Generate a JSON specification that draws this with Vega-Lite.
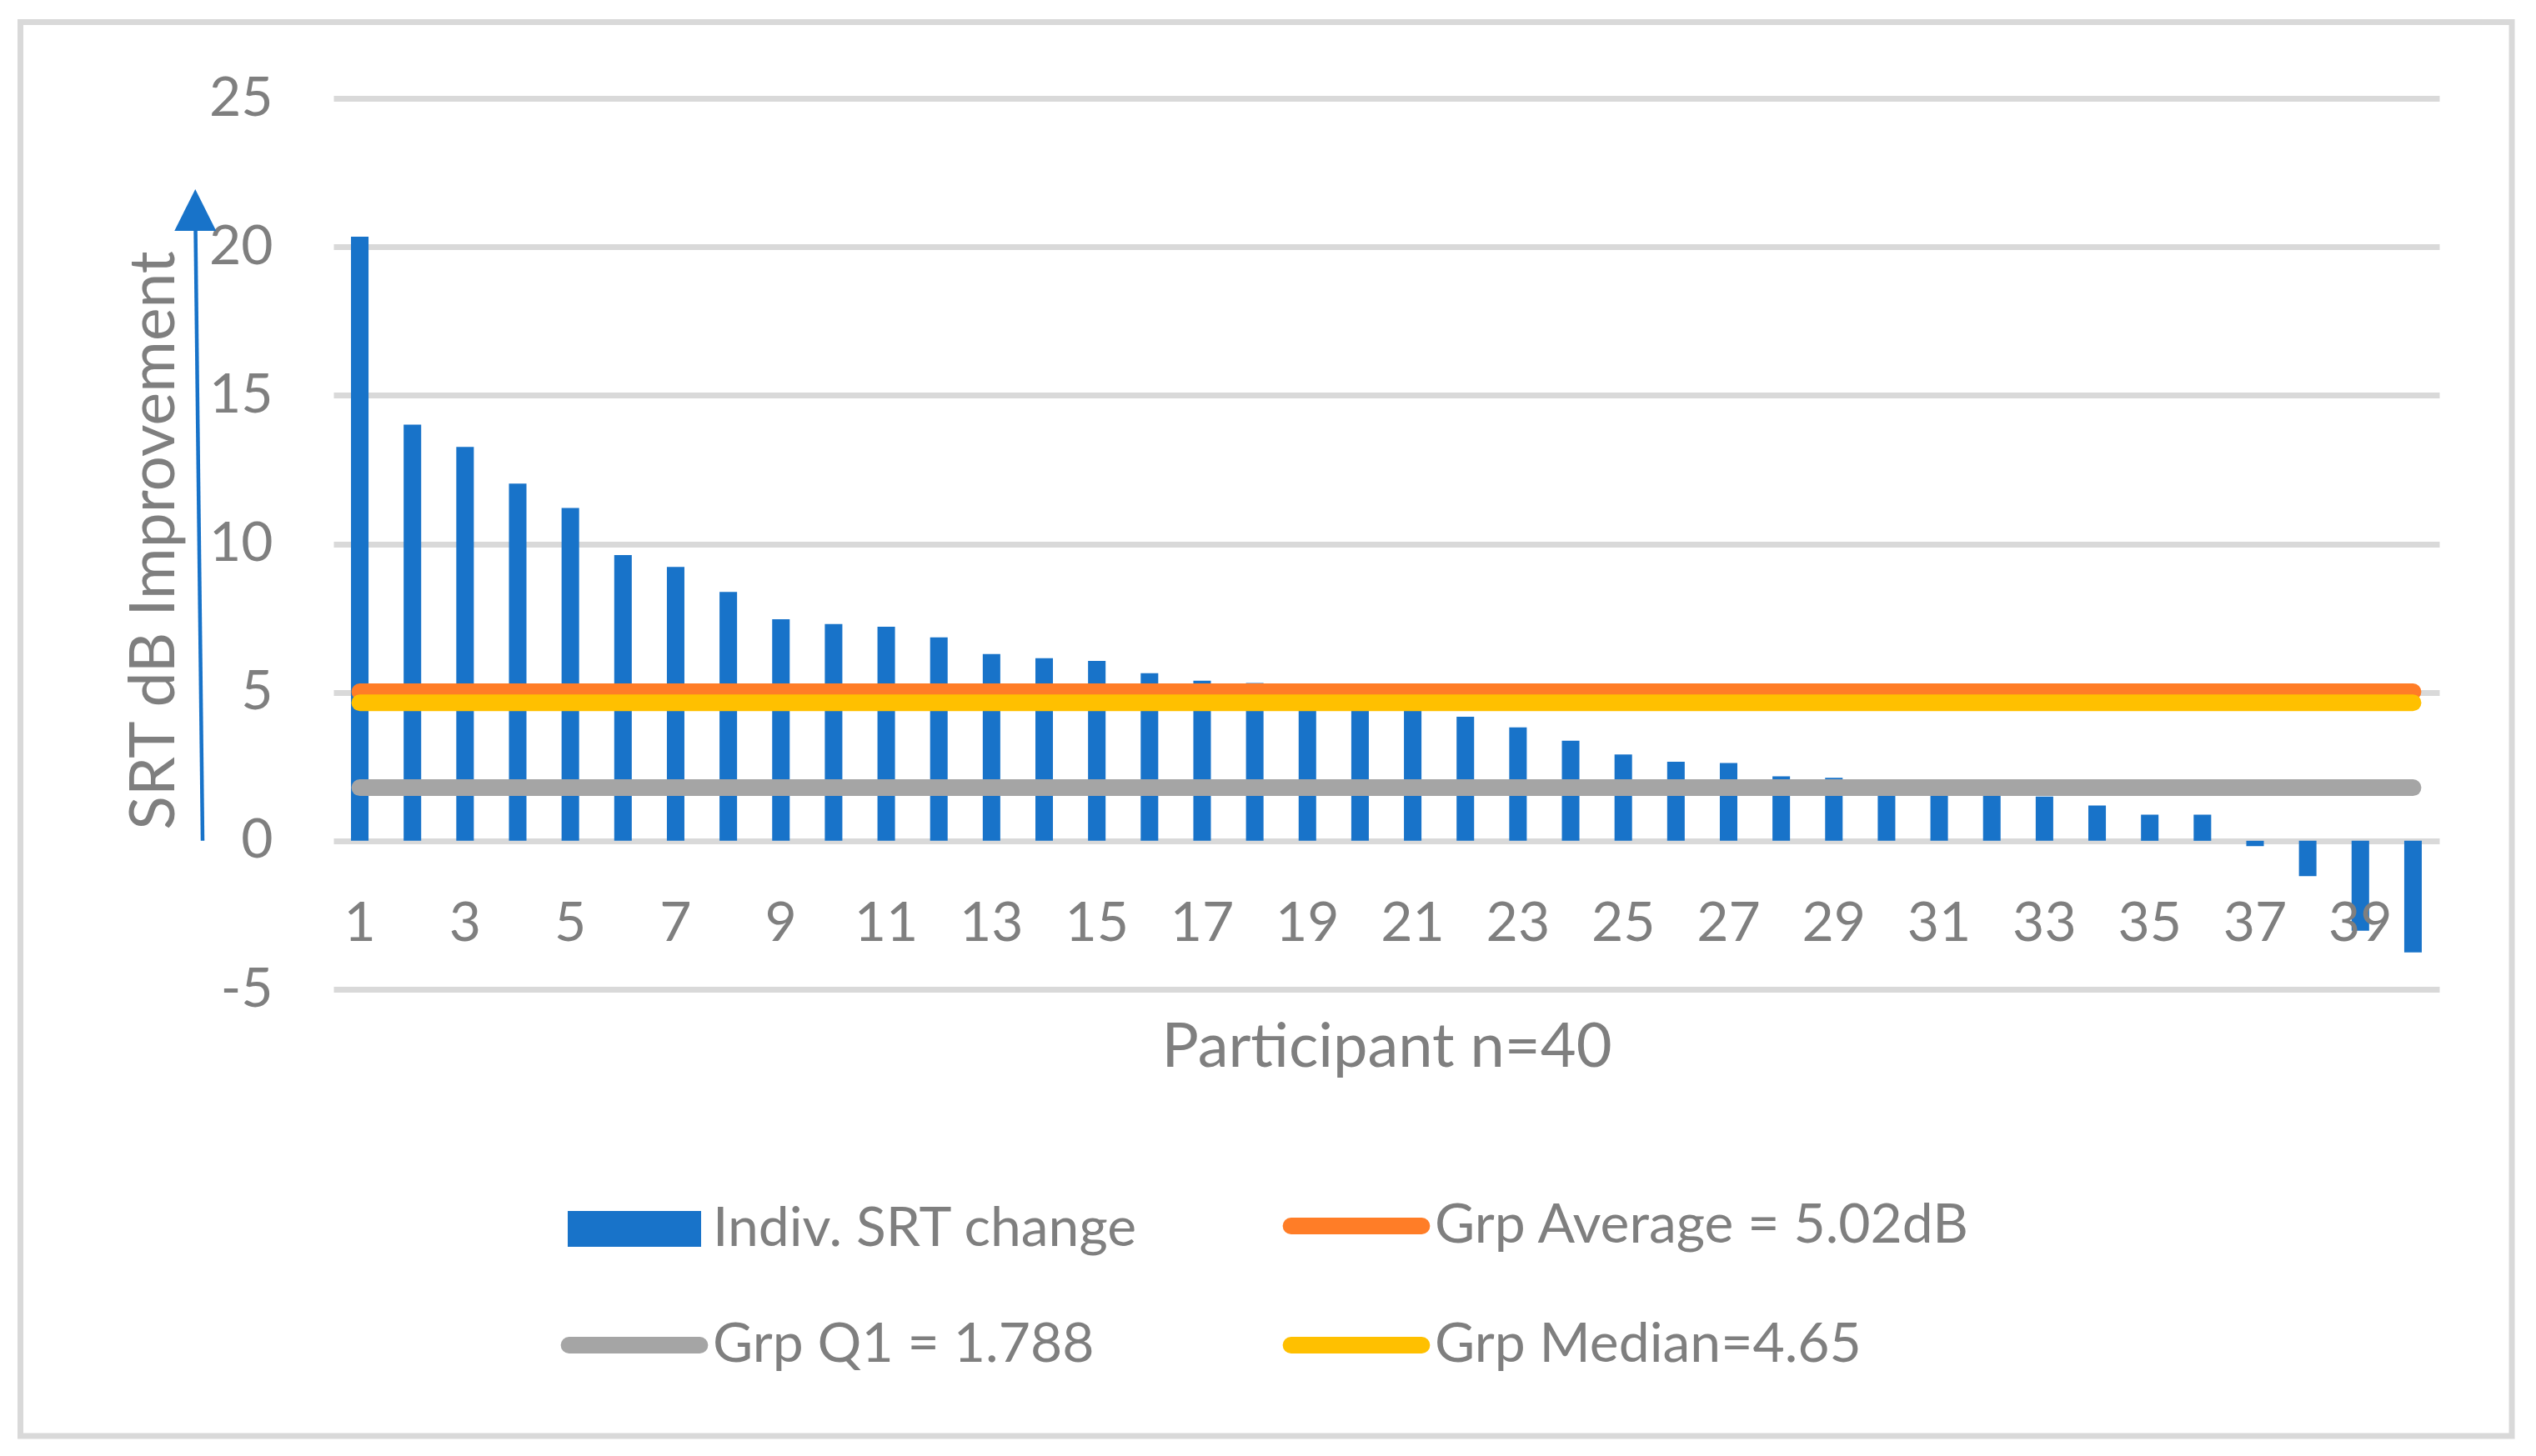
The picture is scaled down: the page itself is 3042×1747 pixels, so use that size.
{
  "$schema": "https://vega.github.io/schema/vega-lite/v6.json",
  "autosize": {"type": "none"},
  "width": 2526,
  "height": 1069,
  "padding": {"left": 400, "top": 118, "right": 116, "bottom": 560},
  "background": "white",
  "config": {
    "font": "Lato",
    "view": {"stroke": null}
  },
  "datasets": {
    "srt": [
      {"participant": 1, "value": 20.34, "series": "Indiv. SRT change"},
      {"participant": 2, "value": 14.01, "series": "Indiv. SRT change"},
      {"participant": 3, "value": 13.26, "series": "Indiv. SRT change"},
      {"participant": 4, "value": 12.03, "series": "Indiv. SRT change"},
      {"participant": 5, "value": 11.21, "series": "Indiv. SRT change"},
      {"participant": 6, "value": 9.62, "series": "Indiv. SRT change"},
      {"participant": 7, "value": 9.22, "series": "Indiv. SRT change"},
      {"participant": 8, "value": 8.38, "series": "Indiv. SRT change"},
      {"participant": 9, "value": 7.46, "series": "Indiv. SRT change"},
      {"participant": 10, "value": 7.30, "series": "Indiv. SRT change"},
      {"participant": 11, "value": 7.21, "series": "Indiv. SRT change"},
      {"participant": 12, "value": 6.85, "series": "Indiv. SRT change"},
      {"participant": 13, "value": 6.29, "series": "Indiv. SRT change"},
      {"participant": 14, "value": 6.15, "series": "Indiv. SRT change"},
      {"participant": 15, "value": 6.06, "series": "Indiv. SRT change"},
      {"participant": 16, "value": 5.64, "series": "Indiv. SRT change"},
      {"participant": 17, "value": 5.39, "series": "Indiv. SRT change"},
      {"participant": 18, "value": 5.31, "series": "Indiv. SRT change"},
      {"participant": 19, "value": 4.8, "series": "Indiv. SRT change"},
      {"participant": 20, "value": 4.7, "series": "Indiv. SRT change"},
      {"participant": 21, "value": 4.6, "series": "Indiv. SRT change"},
      {"participant": 22, "value": 4.18, "series": "Indiv. SRT change"},
      {"participant": 23, "value": 3.82, "series": "Indiv. SRT change"},
      {"participant": 24, "value": 3.37, "series": "Indiv. SRT change"},
      {"participant": 25, "value": 2.91, "series": "Indiv. SRT change"},
      {"participant": 26, "value": 2.66, "series": "Indiv. SRT change"},
      {"participant": 27, "value": 2.62, "series": "Indiv. SRT change"},
      {"participant": 28, "value": 2.17, "series": "Indiv. SRT change"},
      {"participant": 29, "value": 2.12, "series": "Indiv. SRT change"},
      {"participant": 30, "value": 1.8, "series": "Indiv. SRT change"},
      {"participant": 31, "value": 1.75, "series": "Indiv. SRT change"},
      {"participant": 32, "value": 1.6, "series": "Indiv. SRT change"},
      {"participant": 33, "value": 1.49, "series": "Indiv. SRT change"},
      {"participant": 34, "value": 1.19, "series": "Indiv. SRT change"},
      {"participant": 35, "value": 0.88, "series": "Indiv. SRT change"},
      {"participant": 36, "value": 0.88, "series": "Indiv. SRT change"},
      {"participant": 37, "value": -0.18, "series": "Indiv. SRT change"},
      {"participant": 38, "value": -1.19, "series": "Indiv. SRT change"},
      {"participant": 39, "value": -3.03, "series": "Indiv. SRT change"},
      {"participant": 40, "value": -3.76, "series": "Indiv. SRT change"}
    ],
    "stats": [
      {"participant": 1, "value": 5.02, "series": "Grp Average = 5.02dB"},
      {"participant": 40, "value": 5.02, "series": "Grp Average = 5.02dB"},
      {"participant": 1, "value": 1.788, "series": "Grp Q1 = 1.788"},
      {"participant": 40, "value": 1.788, "series": "Grp Q1 = 1.788"},
      {"participant": 1, "value": 4.65, "series": "Grp Median=4.65"},
      {"participant": 40, "value": 4.65, "series": "Grp Median=4.65"}
    ]
  },
  "layer": [
    {
      "layer": [
        {
          "data": {"name": "srt"},
          "mark": {"type": "bar"},
          "encoding": {
            "x": {
              "field": "participant",
              "type": "ordinal",
              "scale": {"paddingInner": 0.667, "paddingOuter": 0.333},
              "axis": {
                "values": [1, 3, 5, 7, 9, 11, 13, 15, 17, 19, 21, 23, 25, 27, 29, 31, 33, 35, 37, 39],
                "labelAngle": 0,
                "domain": false,
                "ticks": false,
                "tickSize": 0,
                "labelPadding": 0,
                "labelBaseline": "alphabetic",
                "labelFontSize": 66,
                "labelColor": "#7F7F7F",
                "offset": -59,
                "zindex": 1,
                "title": "Participant n=40",
                "titleFontSize": 74,
                "titleFontWeight": "normal",
                "titleColor": "#7F7F7F",
                "titleBaseline": "alphabetic",
                "titleX": 1263,
                "titleY": 151
              }
            },
            "y": {
              "field": "value",
              "type": "quantitative",
              "scale": {"domain": [-5, 25], "nice": false, "zero": false},
              "axis": {
                "values": [-5, 0, 5, 10, 15, 20, 25],
                "labelExpr": "'' + datum.value",
                "domain": false,
                "ticks": false,
                "grid": true,
                "gridColor": "#D9D9D9",
                "gridWidth": 7,
                "labelPadding": 73,
                "labelFontSize": 66,
                "labelColor": "#7F7F7F",
                "title": "SRT dB Improvement",
                "titleFontSize": 75,
                "titleFontWeight": "normal",
                "titleColor": "#7F7F7F",
                "titleAngle": 270,
                "titleAlign": "center",
                "titleBaseline": "alphabetic",
                "titleX": -192,
                "titleY": 530
              }
            },
            "color": {
              "field": "series",
              "type": "nominal",
              "scale": {
                "domain": ["Indiv. SRT change", "Grp Average = 5.02dB", "Grp Q1 = 1.788", "Grp Median=4.65"],
                "range": ["#1873C9", "#FF7D27", "#A5A5A5", "#FFC000"]
              },
              "legend": {
                "title": null,
                "orient": "none",
                "direction": "horizontal",
                "legendX": 328,
                "legendY": 1320,
                "columns": 2,
                "columnPadding": 142,
                "rowPadding": 63,
                "symbolSize": 25600,
                "labelFontSize": 66,
                "labelColor": "#7F7F7F",
                "labelOffset": 61,
                "labelLimit": 2000,
                "encode": {
                  "symbols": {
                    "update": {
                      "shape": {"signal": "datum.value === 'Indiv. SRT change' ? 'M-1,-0.27H1V0.27H-1Z' : 'M-0.98,0H0.98'"},
                      "fill": {"signal": "datum.value === 'Indiv. SRT change' ? '#1873C9' : 'transparent'"},
                      "stroke": {"signal": "datum.value === 'Indiv. SRT change' ? 'transparent' : datum.value === 'Grp Average = 5.02dB' ? '#FF7D27' : datum.value === 'Grp Q1 = 1.788' ? '#A5A5A5' : '#FFC000'"},
                      "strokeWidth": {"signal": "datum.value === 'Indiv. SRT change' ? 0 : 20"},
                      "strokeCap": {"value": "round"},
                      "opacity": {"value": 1}
                    }
                  }
                }
              }
            }
          }
        },
        {
          "data": {"name": "stats"},
          "mark": {"type": "line", "strokeWidth": 20, "strokeCap": "round"},
          "encoding": {
            "x": {"field": "participant", "type": "ordinal"},
            "y": {"field": "value", "type": "quantitative"},
            "color": {"field": "series", "type": "nominal"}
          }
        }
      ]
    },
    {
      "data": {"values": [{}]},
      "layer": [
        {
          "mark": {"type": "rect", "filled": false, "stroke": "#D9D9D9", "strokeWidth": 7},
          "encoding": {
            "x": {"datum": -5.946, "type": "quantitative", "scale": {"domain": [0, 40], "nice": false, "zero": false}, "axis": null},
            "x2": {"datum": 41.378},
            "y": {"datum": 27.57, "type": "quantitative"},
            "y2": {"datum": -20.04}
          }
        },
        {
          "mark": {"type": "rule", "color": "#1873C9", "strokeWidth": 4.5},
          "encoding": {
            "x": {"datum": -2.486, "type": "quantitative", "axis": null},
            "x2": {"datum": -2.62},
            "y": {"datum": 0, "type": "quantitative"},
            "y2": {"datum": 20.54}
          }
        },
        {
          "mark": {"type": "point", "shape": "M0,-1L1,1L-1,1Z", "filled": true, "size": 2500, "color": "#1873C9", "opacity": 1},
          "encoding": {
            "x": {"datum": -2.625, "type": "quantitative", "axis": null},
            "y": {"datum": 21.24, "type": "quantitative"}
          }
        }
      ]
    }
  ],
  "resolve": {"scale": {"x": "independent"}}
}
